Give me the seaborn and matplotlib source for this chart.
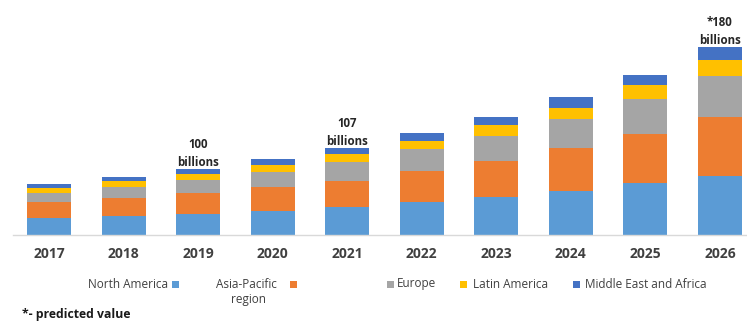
import matplotlib
matplotlib.use("Agg")
import matplotlib.pyplot as plt
from matplotlib.patches import Rectangle
import numpy as np
import pandas as pd
import seaborn as sns

# Market size by region (stacked), index units
years = ["2017", "2018", "2019", "2020", "2021", "2022", "2023", "2024", "2025", "2026"]
north_america = [16.7, 19.0, 21.0, 24.3, 28.3, 33.3, 38.3, 44.0, 52.3, 59.3]
asia_pacific = [16.0, 17.7, 20.7, 23.4, 26.0, 30.7, 35.7, 42.7, 48.4, 59.0]
europe = [9.6, 11.0, 13.3, 15.0, 19.0, 22.0, 25.0, 29.3, 35.3, 41.0]
latin_america = [4.4, 6.6, 6.0, 7.3, 7.7, 8.3, 10.7, 11.3, 13.7, 15.7]
middle_east_africa = [4.3, 3.4, 5.0, 5.7, 5.7, 7.4, 8.6, 10.4, 10.3, 13.0]

regions = ["North America", "Asia-Pacific region", "Europe", "Latin America",
           "Middle East and Africa"]
colors = ["#5B9BD5", "#ED7D31", "#A5A5A5", "#FFC000", "#4472C4"]

# Totals called out above selected bars
callouts = {"2019": "100\nbillions", "2021": "107\nbillions", "2026": "*180\nbillions"}

df = pd.DataFrame({"year": years,
                   "North America": north_america,
                   "Asia-Pacific region": asia_pacific,
                   "Europe": europe,
                   "Latin America": latin_america,
                   "Middle East and Africa": middle_east_africa})
cum = df[regions].cumsum(axis=1)

sns.set_theme(style="white")
plt.rcParams["font.family"] = ["Open Sans", "DejaVu Sans"]

W, H = 747, 326
fig = plt.figure(figsize=(W / 100, H / 100), dpi=100)


def fx(px):
    return px / W


def fy(py):
    return 1 - py / H


# axes spans the baseline area
ax = fig.add_axes([fx(13), fy(235), fx(747) - fx(13), 235 / H])

# stacked bars: draw cumulative totals from the top segment down
for reg, col in zip(reversed(regions), reversed(colors)):
    sns.barplot(x=df["year"], y=cum[reg], color=col, width=0.59,
                saturation=1, ax=ax, edgecolor="none", linewidth=0)

ax.set_xlim(-0.483, 9.362)
ax.set_ylim(0, 235)
ax.set_xlabel("")
ax.set_ylabel("")
ax.set_yticks([])
for s in ["top", "right", "left"]:
    ax.spines[s].set_visible(False)
ax.spines["bottom"].set_color("#D9D9D9")
ax.spines["bottom"].set_linewidth(1)
ax.tick_params(axis="x", length=0, pad=9)
for lab in ax.get_xticklabels():
    lab.set_fontweight("bold")
    lab.set_fontsize(10)
    lab.set_color("#404040")

totals = cum[regions[-1]].values
for i, yr in enumerate(years):
    if yr in callouts:
        ax.annotate(callouts[yr], xy=(i, totals[i]), xytext=(0, 0),
                    textcoords="offset points", ha="center", va="bottom",
                    fontsize=8.3, fontweight="bold", color="#262626",
                    linespacing=1.5, annotation_clip=False)

# legend laid out as in an office chart
txt_kw = dict(fontsize=8.5, color="#404040", va="center")


def marker(x0, color, y0=280.5, size=7):
    fig.add_artist(Rectangle((fx(x0), fy(y0 + size)), size / W, size / H,
                             transform=fig.transFigure, facecolor=color,
                             edgecolor="none"))


fig.text(fx(168), fy(284), "North America", ha="right", **txt_kw)
marker(171.5, colors[0])
fig.text(fx(216), fy(284), "Asia-Pacific", ha="left", **txt_kw)
fig.text(fx(248), fy(300), "region", ha="center", **txt_kw)
marker(290, colors[1])
marker(387, colors[2])
fig.text(fx(397), fy(284), "Europe", ha="left", **txt_kw)
marker(459.5, colors[3])
fig.text(fx(473), fy(284), "Latin America", ha="left", **txt_kw)
marker(572.5, colors[4])
fig.text(fx(585), fy(284), "Middle East and Africa", ha="left", **txt_kw)

fig.text(fx(22), fy(314.5), "*- predicted value", ha="left", va="center",
         fontsize=8.8, fontweight="bold", color="#1a1a1a")

fig.savefig("out.png", dpi=100, facecolor="white")
